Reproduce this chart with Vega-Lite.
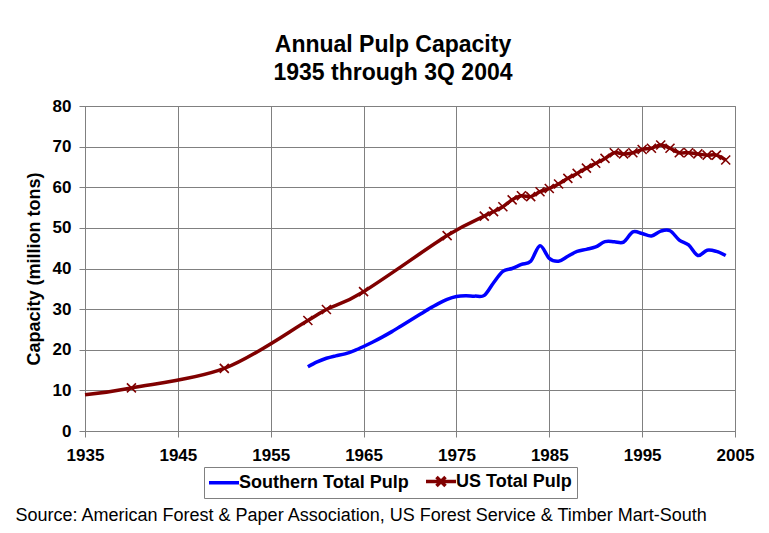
{
  "$schema": "https://vega.github.io/schema/vega-lite/v6.json",
  "width": 650,
  "height": 325,
  "autosize": "none",
  "padding": {"left": 85, "top": 106, "right": 34, "bottom": 102},
  "background": "white",
  "title": {
    "text": ["Annual Pulp Capacity", "1935 through 3Q 2004"],
    "font": "Liberation Sans",
    "fontSize": 23,
    "fontWeight": "bold",
    "color": "black",
    "lineHeight": 28,
    "anchor": "middle",
    "dx": -17,
    "offset": 12
  },
  "config": {
    "view": {"stroke": "#808080", "strokeWidth": 1},
    "font": "Liberation Sans",
    "axis": {
      "gridColor": "#808080",
      "gridOpacity": 1,
      "gridWidth": 1,
      "domainColor": "#808080",
      "tickColor": "#808080",
      "tickSize": 6,
      "labelFont": "Liberation Sans",
      "labelFontSize": 17,
      "labelFontWeight": "bold",
      "labelColor": "black",
      "labelFlush": false,
      "labelOverlap": false,
      "titleFont": "Liberation Sans",
      "titleColor": "black"
    }
  },
  "data": {
    "values": [
      {"year": 1959, "value": 15.8, "series": "Southern Total Pulp"},
      {"year": 1960, "value": 17.0, "series": "Southern Total Pulp"},
      {"year": 1961, "value": 17.9, "series": "Southern Total Pulp"},
      {"year": 1962, "value": 18.5, "series": "Southern Total Pulp"},
      {"year": 1963, "value": 19.0, "series": "Southern Total Pulp"},
      {"year": 1964, "value": 19.8, "series": "Southern Total Pulp"},
      {"year": 1965, "value": 20.8, "series": "Southern Total Pulp"},
      {"year": 1966, "value": 21.9, "series": "Southern Total Pulp"},
      {"year": 1967, "value": 23.1, "series": "Southern Total Pulp"},
      {"year": 1968, "value": 24.4, "series": "Southern Total Pulp"},
      {"year": 1969, "value": 25.8, "series": "Southern Total Pulp"},
      {"year": 1970, "value": 27.2, "series": "Southern Total Pulp"},
      {"year": 1971, "value": 28.6, "series": "Southern Total Pulp"},
      {"year": 1972, "value": 30.0, "series": "Southern Total Pulp"},
      {"year": 1973, "value": 31.3, "series": "Southern Total Pulp"},
      {"year": 1974, "value": 32.4, "series": "Southern Total Pulp"},
      {"year": 1975, "value": 33.1, "series": "Southern Total Pulp"},
      {"year": 1976, "value": 33.3, "series": "Southern Total Pulp"},
      {"year": 1977, "value": 33.2, "series": "Southern Total Pulp"},
      {"year": 1978, "value": 33.4, "series": "Southern Total Pulp"},
      {"year": 1979, "value": 36.5, "series": "Southern Total Pulp"},
      {"year": 1980, "value": 39.3, "series": "Southern Total Pulp"},
      {"year": 1981, "value": 40.0, "series": "Southern Total Pulp"},
      {"year": 1982, "value": 41.0, "series": "Southern Total Pulp"},
      {"year": 1983, "value": 41.8, "series": "Southern Total Pulp"},
      {"year": 1984, "value": 45.6, "series": "Southern Total Pulp"},
      {"year": 1985, "value": 42.5, "series": "Southern Total Pulp"},
      {"year": 1986, "value": 41.8, "series": "Southern Total Pulp"},
      {"year": 1987, "value": 43.0, "series": "Southern Total Pulp"},
      {"year": 1988, "value": 44.2, "series": "Southern Total Pulp"},
      {"year": 1989, "value": 44.7, "series": "Southern Total Pulp"},
      {"year": 1990, "value": 45.3, "series": "Southern Total Pulp"},
      {"year": 1991, "value": 46.6, "series": "Southern Total Pulp"},
      {"year": 1992, "value": 46.6, "series": "Southern Total Pulp"},
      {"year": 1993, "value": 46.5, "series": "Southern Total Pulp"},
      {"year": 1994, "value": 49.0, "series": "Southern Total Pulp"},
      {"year": 1995, "value": 48.6, "series": "Southern Total Pulp"},
      {"year": 1996, "value": 48.0, "series": "Southern Total Pulp"},
      {"year": 1997, "value": 49.2, "series": "Southern Total Pulp"},
      {"year": 1998, "value": 49.3, "series": "Southern Total Pulp"},
      {"year": 1999, "value": 47.0, "series": "Southern Total Pulp"},
      {"year": 2000, "value": 45.8, "series": "Southern Total Pulp"},
      {"year": 2001, "value": 43.2, "series": "Southern Total Pulp"},
      {"year": 2002, "value": 44.5, "series": "Southern Total Pulp"},
      {"year": 2003, "value": 44.2, "series": "Southern Total Pulp"},
      {"year": 2004, "value": 43.2, "series": "Southern Total Pulp"},
      {"year": 1935, "value": 8.9, "series": "US Total Pulp"},
      {"year": 1940, "value": 10.6, "series": "US Total Pulp"},
      {"year": 1950, "value": 15.4, "series": "US Total Pulp"},
      {"year": 1959, "value": 27.2, "series": "US Total Pulp"},
      {"year": 1961, "value": 29.9, "series": "US Total Pulp"},
      {"year": 1965, "value": 34.3, "series": "US Total Pulp"},
      {"year": 1974, "value": 48.1, "series": "US Total Pulp"},
      {"year": 1978, "value": 52.9, "series": "US Total Pulp"},
      {"year": 1979, "value": 54.0, "series": "US Total Pulp"},
      {"year": 1980, "value": 55.2, "series": "US Total Pulp"},
      {"year": 1981, "value": 56.9, "series": "US Total Pulp"},
      {"year": 1982, "value": 57.9, "series": "US Total Pulp"},
      {"year": 1983, "value": 57.7, "series": "US Total Pulp"},
      {"year": 1984, "value": 58.9, "series": "US Total Pulp"},
      {"year": 1985, "value": 59.7, "series": "US Total Pulp"},
      {"year": 1986, "value": 60.8, "series": "US Total Pulp"},
      {"year": 1987, "value": 62.2, "series": "US Total Pulp"},
      {"year": 1988, "value": 63.4, "series": "US Total Pulp"},
      {"year": 1989, "value": 64.7, "series": "US Total Pulp"},
      {"year": 1990, "value": 65.9, "series": "US Total Pulp"},
      {"year": 1991, "value": 67.1, "series": "US Total Pulp"},
      {"year": 1992, "value": 68.5, "series": "US Total Pulp"},
      {"year": 1993, "value": 68.2, "series": "US Total Pulp"},
      {"year": 1994, "value": 68.5, "series": "US Total Pulp"},
      {"year": 1995, "value": 69.3, "series": "US Total Pulp"},
      {"year": 1996, "value": 69.6, "series": "US Total Pulp"},
      {"year": 1997, "value": 70.4, "series": "US Total Pulp"},
      {"year": 1998, "value": 69.6, "series": "US Total Pulp"},
      {"year": 1999, "value": 68.5, "series": "US Total Pulp"},
      {"year": 2000, "value": 68.5, "series": "US Total Pulp"},
      {"year": 2001, "value": 68.2, "series": "US Total Pulp"},
      {"year": 2002, "value": 67.9, "series": "US Total Pulp"},
      {"year": 2003, "value": 67.9, "series": "US Total Pulp"},
      {"year": 2004, "value": 66.7, "series": "US Total Pulp"}
    ]
  },
  "encoding": {
    "x": {
      "field": "year",
      "type": "quantitative",
      "scale": {"domain": [1935, 2005], "nice": false, "zero": false},
      "axis": {
        "values": [1935, 1945, 1955, 1965, 1975, 1985, 1995, 2005],
        "format": "d",
        "labelPadding": 10,
        "title": "Source: American Forest & Paper Association, US Forest Service & Timber Mart-South",
        "titleFontSize": 18,
        "titleFontWeight": "normal",
        "titleX": -70,
        "titleY": 89,
        "titleAlign": "left",
        "titleBaseline": "alphabetic",
        "titleLimit": 760
      }
    },
    "y": {
      "field": "value",
      "type": "quantitative",
      "scale": {"domain": [0, 80], "nice": false},
      "axis": {
        "values": [0, 10, 20, 30, 40, 50, 60, 70, 80],
        "labelPadding": 8,
        "title": "Capacity (million tons)",
        "titleFontSize": 18,
        "titleFontWeight": "bold",
        "titlePadding": 9
      }
    }
  },
  "layer": [
    {
      "mark": {"type": "line", "interpolate": "cardinal", "strokeWidth": 3.5},
      "encoding": {
        "color": {
          "field": "series",
          "type": "nominal",
          "scale": {"domain": ["Southern Total Pulp", "US Total Pulp"], "range": ["#0000FF", "#800000"]},
          "legend": {
            "title": null,
            "orient": "none",
            "legendX": 119,
            "legendY": 361,
            "direction": "horizontal",
            "strokeColor": "#808080",
            "padding": 5,
            "labelFont": "Liberation Sans",
            "labelFontSize": 18,
            "labelFontWeight": "bold",
            "labelColor": "black",
            "labelLimit": 400,
            "symbolType": "M-2,0L2,0",
            "symbolSize": 225,
            "symbolStrokeWidth": 3.5,
            "labelOffset": 11,
            "columnPadding": 10,
            "encode": {
              "symbols": {
                "update": {
                  "shape": {"signal": "datum.value === 'US Total Pulp' ? 'M-2,0L2,0M-0.6,-0.6L0.6,0.6M-0.6,0.6L0.6,-0.6' : 'M-2,0L2,0'"},
                  "xc": {"value": 15}
                }
              }
            }
          }
        }
      }
    },
    {
      "transform": [{"filter": "datum.series === 'US Total Pulp' && datum.year > 1935"}],
      "mark": {
        "type": "point",
        "shape": "M-1,-1L1,1M-1,1L1,-1",
        "size": 81,
        "filled": false,
        "stroke": "#800000",
        "strokeWidth": 1.6,
        "opacity": 1
      }
    }
  ]
}
